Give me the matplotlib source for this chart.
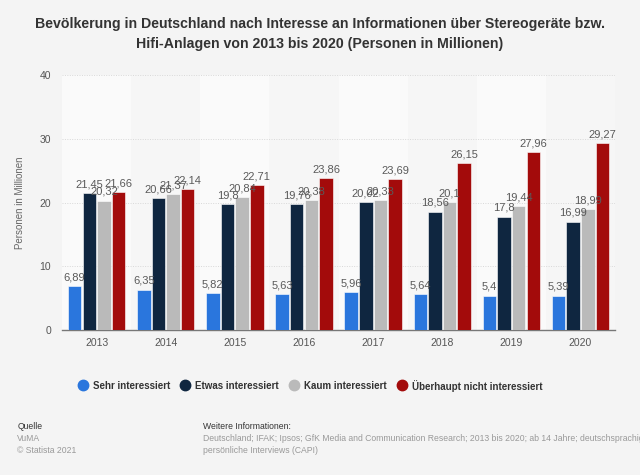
import numpy as np
import matplotlib
matplotlib.use("Agg")
from matplotlib import pyplot as plt

plt.rcParams["font.family"] = ["Liberation Sans", "DejaVu Sans"]

years = ["2013", "2014", "2015", "2016", "2017", "2018", "2019", "2020"]
sehr = [6.89, 6.35, 5.82, 5.63, 5.96, 5.64, 5.4, 5.39]
etwas = [21.45, 20.66, 19.8, 19.76, 20.02, 18.56, 17.8, 16.99]
kaum = [20.32, 21.37, 20.84, 20.38, 20.33, 20.1, 19.44, 18.99]
gar_nicht = [21.66, 22.14, 22.71, 23.86, 23.69, 26.15, 27.96, 29.27]

series = [
    ("Sehr interessiert", sehr, "#2a76dd"),
    ("Etwas interessiert", etwas, "#0f2640"),
    ("Kaum interessiert", kaum, "#bababa"),
    ("Überhaupt nicht interessiert", gar_nicht, "#a30b0b"),
]

bg = "#f4f4f4"
W, H = 640, 475
fig = plt.figure(figsize=(6.4, 4.75), dpi=100, facecolor=bg)
ax = fig.add_axes([0.097, 0.305, 0.864, 0.537])
ax.set_facecolor(bg)

x = np.arange(len(years))
width = 0.195
step = 0.212

# alternating column shading
for i in x:
    ax.axvspan(i - 0.5, i + 0.5, color="#fafafa" if i % 2 == 0 else "#f6f6f6", zorder=0, lw=0)

for k, (name, vals, col) in enumerate(series):
    pos = x + (k - 1.5) * step
    ax.bar(pos, vals, width, color=col, edgecolor="white", linewidth=0.4, zorder=3, label=name)
    for p, v in zip(pos, vals):
        ax.text(p, v + 0.6, ("%g" % v).replace(".", ","), ha="center", va="bottom",
                fontsize=8, color="#5a5a5a", zorder=4)

ax.set_xlim(-0.5, len(years) - 0.5)
ax.set_ylim(0, 40)
ax.set_yticks([0, 10, 20, 30, 40])
ax.set_xticks(x)
ax.set_xticklabels(years)
ax.tick_params(axis="both", length=0, labelsize=7.5, colors="#555555")
ax.tick_params(axis="x", pad=6)
ax.tick_params(axis="y", pad=8)
ax.grid(axis="y", color="#d8d8d8", linestyle=(0, (1, 1.5)), linewidth=0.7, zorder=1)
for s in ["top", "right", "left"]:
    ax.spines[s].set_visible(False)
ax.spines["bottom"].set_color("#777777")
ax.spines["bottom"].set_linewidth(1.0)
ax.set_ylabel("Personen in Millionen", fontsize=7, color="#666666", labelpad=10)

fig.text(0.5, 0.965, "Bevölkerung in Deutschland nach Interesse an Informationen über Stereogeräte bzw.\n"
         "Hifi-Anlagen von 2013 bis 2020 (Personen in Millionen)",
         ha="center", va="top", fontsize=10.2, fontweight="bold", color="#333333", linespacing=1.6)

# legend drawn by hand: round markers followed by labels
fig.canvas.draw()
renderer = fig.canvas.get_renderer()
lx, ly = 83, H - 385
for name, vals, col in series:
    fig.add_artist(plt.Line2D([lx / W], [ly / H], marker="o", markersize=7.5, color=col,
                              transform=fig.transFigure, linestyle=""))
    t = fig.text((lx + 10) / W, ly / H, name, fontsize=7, fontweight="bold",
                 color="#333333", va="center_baseline", ha="left")
    bb = t.get_window_extent(renderer)
    lx = bb.x1 + 15

fig.text(0.027, 0.097, "Quelle", fontsize=6.2, color="#333333")
fig.text(0.027, 0.072, "VuMA", fontsize=6.2, color="#999999")
fig.text(0.027, 0.047, "© Statista 2021", fontsize=6.2, color="#999999")
fig.text(0.317, 0.097, "Weitere Informationen:", fontsize=6.2, color="#333333")
fig.text(0.317, 0.072, "Deutschland; IFAK; Ipsos; GfK Media and Communication Research; 2013 bis 2020; ab 14 Jahre; deutschsprachige Bevö",
         fontsize=6.2, color="#999999")
fig.text(0.317, 0.047, "persönliche Interviews (CAPI)", fontsize=6.2, color="#999999")

fig.savefig("out.png", dpi=100, facecolor=bg)
